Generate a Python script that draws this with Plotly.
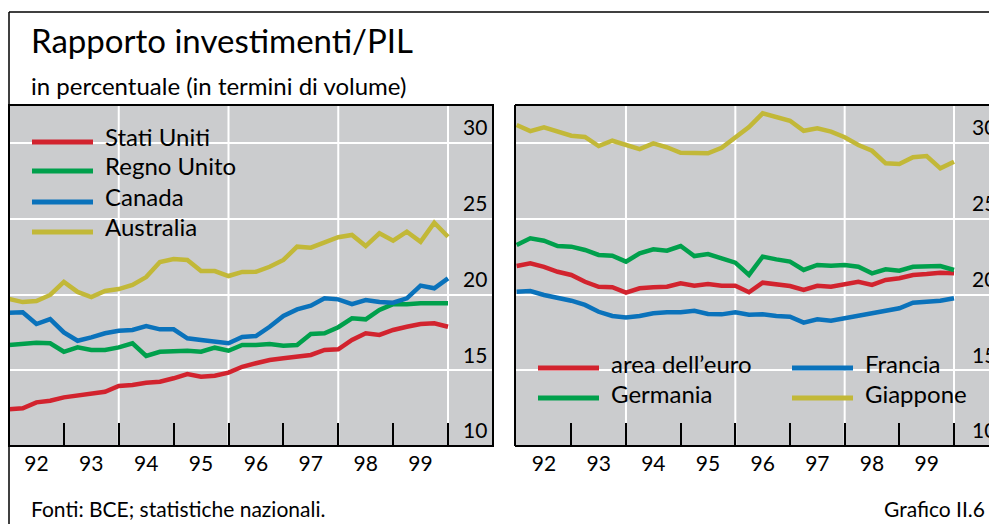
import plotly.graph_objects as go

# ---------------- data ----------------
# quarterly observations, 1991 T4 ... 1999 T4 (plotted at quarter end)
periodi = ["1991T4"] + [f"{y}T{q}" for y in range(1992, 2000) for q in range(1, 5)]

stati_uniti = [12.42, 12.49, 12.88, 12.99, 13.21, 13.32, 13.43, 13.58, 13.96, 14.03, 14.18,
               14.24, 14.47, 14.75, 14.57, 14.64, 14.84, 15.23, 15.46, 15.68, 15.79, 15.89,
               16.01, 16.34, 16.38, 17.00, 17.44, 17.33, 17.66, 17.87, 18.05, 18.10, 17.87]
regno_unito = [16.67, 16.78, 16.82, 16.78, 16.22, 16.51, 16.34, 16.34, 16.51, 16.78, 15.94,
               16.22, 16.29, 16.29, 16.22, 16.49, 16.29, 16.67, 16.67, 16.73, 16.62, 16.67,
               17.39, 17.44, 17.84, 18.43, 18.36, 18.98, 19.37, 19.35, 19.42, 19.39, 19.42]
canada = [18.80, 18.83, 18.05, 18.38, 17.50, 16.95, 17.17, 17.44, 17.61, 17.66, 17.92,
          17.70, 17.70, 17.11, 17.00, 16.86, 16.78, 17.20, 17.26, 17.87, 18.58, 19.02,
          19.26, 19.75, 19.68, 19.37, 19.64, 19.50, 19.46, 19.75, 20.59, 20.41, 21.06]
australia = [19.70, 19.50, 19.57, 19.97, 20.83, 20.17, 19.83, 20.23, 20.36, 20.63, 21.15,
             22.15, 22.34, 22.28, 21.55, 21.55, 21.22, 21.49, 21.50, 21.83, 22.28, 23.16,
             23.09, 23.42, 23.78, 23.93, 23.20, 24.04, 23.55, 24.15, 23.48, 24.74, 23.81]

area_euro = [21.88, 22.06, 21.83, 21.50, 21.29, 20.84, 20.51, 20.48, 20.12, 20.41, 20.48,
             20.51, 20.74, 20.58, 20.69, 20.58, 20.58, 20.15, 20.78, 20.67, 20.56, 20.30,
             20.58, 20.51, 20.67, 20.84, 20.63, 20.96, 21.07, 21.29, 21.35, 21.44, 21.40]
germania = [23.27, 23.71, 23.55, 23.20, 23.16, 22.94, 22.61, 22.56, 22.17, 22.72, 22.98,
            22.89, 23.20, 22.54, 22.67, 22.39, 22.10, 21.29, 22.50, 22.32, 22.17, 21.62,
            21.95, 21.90, 21.95, 21.83, 21.40, 21.66, 21.57, 21.83, 21.83, 21.88, 21.62]
francia = [20.18, 20.23, 19.97, 19.79, 19.59, 19.31, 18.86, 18.58, 18.49, 18.58, 18.76,
           18.83, 18.83, 18.93, 18.71, 18.69, 18.83, 18.67, 18.69, 18.58, 18.53, 18.14,
           18.36, 18.27, 18.43, 18.58, 18.76, 18.91, 19.09, 19.46, 19.52, 19.59, 19.75]
giappone = [31.19, 30.79, 31.04, 30.75, 30.48, 30.40, 29.80, 30.15, 29.91, 29.60, 29.98,
            29.72, 29.36, 29.32, 29.32, 29.69, 30.38, 31.06, 31.96, 31.74, 31.47, 30.81,
            30.97, 30.75, 30.38, 29.87, 29.49, 28.66, 28.61, 29.06, 29.14, 28.33, 28.77]

anni = [1992, 1993, 1994, 1995, 1996, 1997, 1998, 1999]
etichette_anni = ["92", "93", "94", "95", "96", "97", "98", "99"]
y_ticks = [10, 15, 20, 25, 30]

left_series = [("Stati Uniti", stati_uniti, "#d2232e"),
               ("Regno Unito", regno_unito, "#00a04c"),
               ("Canada", canada, "#0a72bb"),
               ("Australia", australia, "#c2b838")]
right_series = [("area dell\u2019euro", area_euro, "#d2232e"),
                ("Germania", germania, "#00a04c"),
                ("Francia", francia, "#0a72bb"),
                ("Giappone", giappone, "#c2b838")]

# ---------------- helpers ----------------
W, H = 989, 524
FONT = "Lato"
GRAY = "rgb(203,204,206)"


def px(x):
    return x / W


def py(y):
    return 1 - y / H


def to_x(p):
    y, q = p.split("T")
    return int(y) + int(q) / 4


xs = [to_x(p) for p in periodi]

fig = go.Figure()
for name, vals, col in left_series:
    fig.add_trace(go.Scatter(x=xs, y=vals, name=name, mode="lines",
                             line=dict(color=col, width=4.5), xaxis="x", yaxis="y",
                             showlegend=False))
for name, vals, col in right_series:
    fig.add_trace(go.Scatter(x=xs, y=vals, name=name, mode="lines",
                             line=dict(color=col, width=4.5), xaxis="x2", yaxis="y2",
                             showlegend=False))

mid_years = [a + 0.5 for a in anni]
tick_years = [a + 1 for a in anni]

xcommon = dict(tickmode="array", tickvals=mid_years, ticktext=etichette_anni,
               ticks="", showgrid=False, zeroline=False, showline=False,
               ticklabelstandoff=3,
               tickfont=dict(family=FONT, size=21, color="black"),
               minor=dict(tickmode="array", tickvals=tick_years, ticks="inside",
                          ticklen=23, tickwidth=2, tickcolor="black", showgrid=False))
ycommon = dict(range=[10, 32.51], tickmode="array", tickvals=y_ticks, ticks="",
               showgrid=True, gridcolor="white", gridwidth=2, zeroline=False,
               showline=False, side="right", anchor="free", ticklabelshift=-15,
               tickfont=dict(family=FONT, size=21, color="black"),
               domain=[py(446), py(105)])

fig.update_layout(
    width=W, height=H,
    margin=dict(l=0, r=0, t=0, b=0, autoexpand=False),
    paper_bgcolor="white", plot_bgcolor=GRAY,
    showlegend=False, hovermode=False,
    xaxis=dict(domain=[px(9), px(493)], range=[1992, 2000.82], anchor="y", **xcommon),
    xaxis2=dict(domain=[px(515), 1.0], range=[1991.97, 2000.64], anchor="y2", **xcommon),
    yaxis=dict(position=px(462), **ycommon),
    yaxis2=dict(position=px(971), **ycommon),
)

shapes = []
# vertical white grid lines every two years
for xr, yr in (("x", "y domain"), ("x2", "y2 domain")):
    for g in (1994, 1996, 1998, 2000):
        shapes.append(dict(type="line", xref=xr, yref=yr, x0=g, x1=g, y0=0, y1=1,
                           line=dict(color="white", width=2), layer="below"))
# panel borders
shapes.append(dict(type="rect", xref="x domain", yref="y domain", x0=0, x1=1, y0=0, y1=1,
                   line=dict(color="black", width=2), layer="above"))
for (x0, y0, x1, y1) in ((0, 0, 1, 0), (0, 1, 1, 1), (0, 0, 0, 1)):
    shapes.append(dict(type="line", xref="x2 domain", yref="y2 domain",
                       x0=x0, y0=y0, x1=x1, y1=y1,
                       line=dict(color="black", width=2), layer="above"))
# outer frame (top and left)
shapes.append(dict(type="line", xref="paper", yref="paper", x0=px(9), x1=1,
                   y0=py(12), y1=py(12), line=dict(color="black", width=1.5)))
shapes.append(dict(type="line", xref="paper", yref="paper", x0=px(9), x1=px(9),
                   y0=py(12), y1=0, line=dict(color="black", width=1.5)))

annotations = []


def text(x, y, s, size, anchor="left"):
    annotations.append(dict(xref="paper", yref="paper", x=px(x), y=py(y), text=s,
                            showarrow=False, xanchor=anchor, yanchor="middle",
                            font=dict(family=FONT, size=size, color="black")))


text(29, 40, "Rapporto investimenti/PIL", 33)
text(29, 85, "in percentuale (in termini di volume)", 24)
text(29, 508, "Fonti: BCE; statistiche nazionali.", 21)
text(987, 508, "Grafico II.6", 21, anchor="right")

# legends (samples + labels)
leg_left = [(142, 0), (171, 1), (202, 2), (232, 3)]
for yy, k in leg_left:
    name, _, col = left_series[k]
    shapes.append(dict(type="line", xref="paper", yref="paper", x0=px(32), x1=px(93),
                       y0=py(yy), y1=py(yy), line=dict(color=col, width=5)))
    text(103, yy - 6, name, 24)

leg_right = [(538, 368, 0), (538, 398, 1), (792, 368, 2), (792, 398, 3)]
for xx, yy, k in leg_right:
    name, _, col = right_series[k]
    shapes.append(dict(type="line", xref="paper", yref="paper", x0=px(xx), x1=px(xx + 61),
                       y0=py(yy), y1=py(yy), line=dict(color=col, width=5)))
    text(xx + 71, yy - 5, name, 24)

fig.update_layout(shapes=shapes, annotations=annotations)

# let the 989x524 figure fill the page exactly (no default body margin / scrollbars)
page_fix = ("document.body.style.margin='0';document.body.style.overflow='hidden';"
            "document.documentElement.style.overflow='hidden';")
fig.write_html("out.html", post_script=page_fix,
               config={"displayModeBar": False, "staticPlot": True})
